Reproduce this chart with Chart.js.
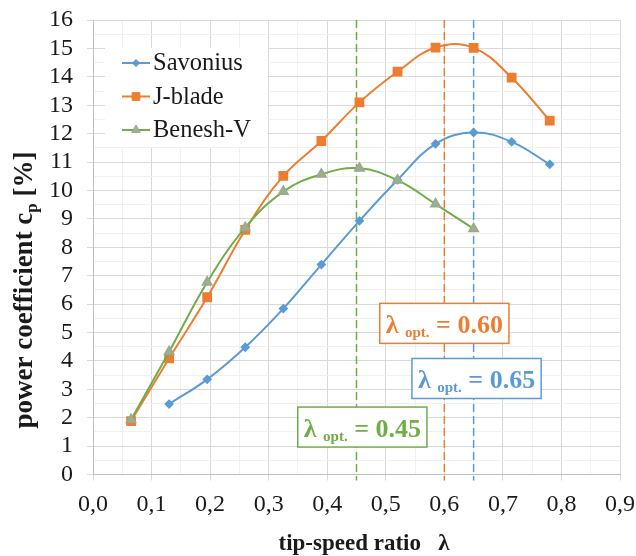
<!DOCTYPE html>
<html>
<head>
<meta charset="utf-8">
<script src="https://cdn.jsdelivr.net/npm/chart.js@4.4.1/dist/chart.umd.min.js"></script>
<style>
  html, body { margin: 0; padding: 0; background: #fff; }
  canvas { display: block; }
</style>
</head>
<body>
<canvas id="chart" width="636" height="556"></canvas>
<script>
// tip-speed ratio of each measurement
const tipSpeedRatio = [0.065, 0.13, 0.195, 0.26, 0.325, 0.39, 0.455, 0.52, 0.585, 0.65, 0.715, 0.78];

// power coefficient cp [%], null = not measured
const savonius = [null, 2.48, 3.35, 4.48, 5.84, 7.39, 8.93, 10.37, 11.64, 12.04, 11.71, 10.92];
const jBlade = [1.88, 4.09, 6.24, 8.61, 10.51, 11.74, 13.1, 14.18, 15.03, 15.02, 13.97, 12.46];
const beneshV = [1.93, 4.32, 6.77, 8.69, 9.96, 10.57, 10.78, 10.36, 9.52, 8.65, null, null];

// optimum tip-speed ratios (Benesh-V, J-blade, Savonius)
const optimumLambda = [0.45, 0.6, 0.65];
const optimumLabels = ["0.45", "0.60", "0.65"];

const xTickLabels = ["0,0", "0,1", "0,2", "0,3", "0,4", "0,5", "0,6", "0,7", "0,8", "0,9"];
const yTickLabels = ["0", "1", "2", "3", "4", "5", "6", "7", "8", "9", "10", "11", "12", "13", "14", "15", "16"];

const BLUE = "#5B9BD5";
const ORANGE = "#ED7D31";
const GREEN = "#70AD47";
const optimumColors = [GREEN, ORANGE, BLUE];
// where the λopt boxes sit, in data units (centre)
const labelAnchorX = [0.46, 0.6, 0.655];
const labelAnchorY = [1.67, 5.32, 3.38];

const SERIF = "'Liberation Serif', 'Times New Roman', serif";
const MAJOR_GRID = "#d9d9d9";
const MINOR_GRID = "#f0f0f0";

const toPoints = (values) =>
  tipSpeedRatio
    .map((x, i) => ({ x, y: values[i] }))
    .filter((p) => p.y !== null);

const isMajor = (value, step) => Math.abs(value / step - Math.round(value / step)) < 1e-6;

const overlayPlugin = {
  id: "overlay",
  beforeDatasetsDraw(chart) {
    const { ctx, chartArea, scales } = chart;

    // dashed optimum lines
    optimumLambda.forEach((lambda, i) => {
      const x = scales.x.getPixelForValue(lambda);
      ctx.save();
      ctx.strokeStyle = optimumColors[i];
      ctx.lineWidth = 1.5;
      ctx.setLineDash([8, 4]);
      ctx.beginPath();
      ctx.moveTo(x, chartArea.top);
      ctx.lineTo(x, chartArea.bottom + 6);
      ctx.stroke();
      ctx.restore();
    });

    // legend inside the plot
    const left = chartArea.left + 12;
    const top = chartArea.top + 28;
    ctx.save();
    ctx.fillStyle = "#fff";
    ctx.fillRect(left, top, 163, 99);
    chart.data.datasets.forEach((ds, i) => {
      const y = top + 15 + i * 33.5;
      ctx.strokeStyle = ds.borderColor;
      ctx.lineWidth = 2;
      ctx.beginPath();
      ctx.moveTo(left + 17, y);
      ctx.lineTo(left + 45, y);
      ctx.stroke();
      ctx.fillStyle = ds.pointBackgroundColor || ds.borderColor;
      ctx.strokeStyle = ds.pointBorderColor || ds.borderColor;
      ctx.lineWidth = 1;
      Chart.helpers.drawPoint(ctx, {
        pointStyle: ds.pointStyle,
        radius: ds.pointRadius,
        rotation: 0,
        borderWidth: 1,
      }, left + 31, y);
      ctx.fillStyle = "#1a1a1a";
      ctx.font = "24.5px " + SERIF;
      ctx.textBaseline = "middle";
      ctx.textAlign = "left";
      ctx.fillText(ds.label, left + 48, y + 1);
    });
    ctx.restore();
  },
  afterDatasetsDraw(chart) {
    const { ctx, scales } = chart;
    const big = "bold 26px " + SERIF;
    const small = "bold 15px " + SERIF;
    optimumLambda.forEach((lambda, i) => {
      const cx = scales.x.getPixelForValue(labelAnchorX[i]);
      const cy = scales.y.getPixelForValue(labelAnchorY[i]);
      ctx.save();
      ctx.font = big;
      const wL = ctx.measureText("λ ").width;
      const wR = ctx.measureText(" = " + optimumLabels[i]).width;
      ctx.font = small;
      const wS = ctx.measureText("opt.").width;
      const total = wL + wS + wR;
      const boxW = total + 12;
      const boxH = 40;
      ctx.fillStyle = "#fff";
      ctx.fillRect(cx - boxW / 2, cy - boxH / 2, boxW, boxH);
      ctx.strokeStyle = optimumColors[i];
      ctx.lineWidth = 1.5;
      ctx.strokeRect(cx - boxW / 2, cy - boxH / 2, boxW, boxH);
      ctx.fillStyle = optimumColors[i];
      ctx.textBaseline = "alphabetic";
      ctx.textAlign = "left";
      let x = cx - total / 2;
      ctx.font = big;
      ctx.fillText("λ ", x, cy + 9.5);
      x += wL;
      ctx.font = small;
      ctx.fillText("opt.", x, cy + 14);
      x += wS;
      ctx.font = big;
      ctx.fillText(" = " + optimumLabels[i], x, cy + 9.5);
      ctx.restore();
    });
  },
  afterDraw(chart) {
    const { ctx } = chart;
    ctx.save();
    ctx.fillStyle = "#1a1a1a";

    // x axis title
    ctx.font = "bold 23px " + SERIF;
    ctx.textAlign = "center";
    ctx.textBaseline = "alphabetic";
    ctx.fillText("tip-speed ratio   λ", 364, 550);

    // y axis title with subscript
    const main = "bold 27px " + SERIF;
    const sub = "bold 17px " + SERIF;
    const partA = "power coefficient c";
    const partB = "p";
    const partC = " [%]";
    ctx.font = main;
    const wA = ctx.measureText(partA).width;
    const wC = ctx.measureText(partC).width;
    ctx.font = sub;
    const wB = ctx.measureText(partB).width;
    const total = wA + wB + wC;
    ctx.translate(32, 290);
    ctx.rotate(-Math.PI / 2);
    ctx.textAlign = "left";
    let x = -total / 2;
    ctx.font = main;
    ctx.fillText(partA, x, 0);
    x += wA;
    ctx.font = sub;
    ctx.fillText(partB, x, 5);
    x += wB;
    ctx.font = main;
    ctx.fillText(partC, x, 0);
    ctx.restore();
  },
};

new Chart(document.getElementById("chart"), {
  type: "line",
  data: {
    datasets: [
      {
        label: "Savonius",
        data: toPoints(savonius),
        borderColor: BLUE,
        backgroundColor: BLUE,
        pointBackgroundColor: BLUE,
        pointBorderColor: BLUE,
        pointStyle: "rectRot",
        pointRadius: 3.5,
        borderWidth: 2,
        tension: 0.4,
        order: 2,
      },
      {
        label: "J-blade",
        data: toPoints(jBlade),
        borderColor: ORANGE,
        backgroundColor: ORANGE,
        pointBackgroundColor: ORANGE,
        pointBorderColor: ORANGE,
        pointStyle: "rect",
        pointRadius: 5.5,
        borderWidth: 2,
        tension: 0.4,
        order: 1,
      },
      {
        label: "Benesh-V",
        data: toPoints(beneshV),
        borderColor: GREEN,
        backgroundColor: GREEN,
        pointBackgroundColor: "#a5a9a0",
        pointBorderColor: "#98ad8a",
        pointStyle: "triangle",
        pointRadius: 5,
        borderWidth: 2,
        tension: 0.4,
        order: 0,
      },
    ],
  },
  options: {
    responsive: false,
    animation: false,
    layout: { padding: { top: 20, right: 16, left: 0, bottom: 0 } },
    plugins: {
      legend: { display: false },
      tooltip: { enabled: false },
    },
    scales: {
      x: {
        type: "linear",
        min: 0,
        max: 0.9,
        afterFit: (scale) => {
          scale.height = 81.5;
          scale.paddingLeft = 0;
          scale.paddingRight = 0;
        },
        ticks: {
          stepSize: 0.05,
          autoSkip: false,
          maxRotation: 0,
          padding: 10,
          color: "#1a1a1a",
          font: { family: SERIF, size: 24 },
          callback: (value) => (isMajor(value, 0.1) ? xTickLabels[Math.round(value * 10)] : ""),
        },
        grid: {
          color: (ctx) => (ctx.tick && isMajor(ctx.tick.value, 0.1) ? MAJOR_GRID : MINOR_GRID),
          tickColor: (ctx) => (ctx.tick && isMajor(ctx.tick.value, 0.1) ? MAJOR_GRID : "rgba(0,0,0,0)"),
          tickLength: 6,
        },
        border: { color: "#bfbfbf" },
      },
      y: {
        min: 0,
        max: 16,
        afterFit: (scale) => {
          scale.width = 93;
          scale.paddingTop = 0;
          scale.paddingBottom = 0;
        },
        ticks: {
          stepSize: 0.5,
          autoSkip: false,
          padding: 14,
          color: "#1a1a1a",
          font: { family: SERIF, size: 24 },
          callback: (value) => (isMajor(value, 1) ? yTickLabels[Math.round(value)] : ""),
        },
        grid: {
          color: (ctx) => (ctx.tick && isMajor(ctx.tick.value, 1) ? MAJOR_GRID : MINOR_GRID),
          tickColor: (ctx) => (ctx.tick && isMajor(ctx.tick.value, 1) ? MAJOR_GRID : "rgba(0,0,0,0)"),
          tickLength: 6,
        },
        border: { color: "#bfbfbf" },
      },
    },
  },
  plugins: [overlayPlugin],
});
</script>
</body>
</html>
